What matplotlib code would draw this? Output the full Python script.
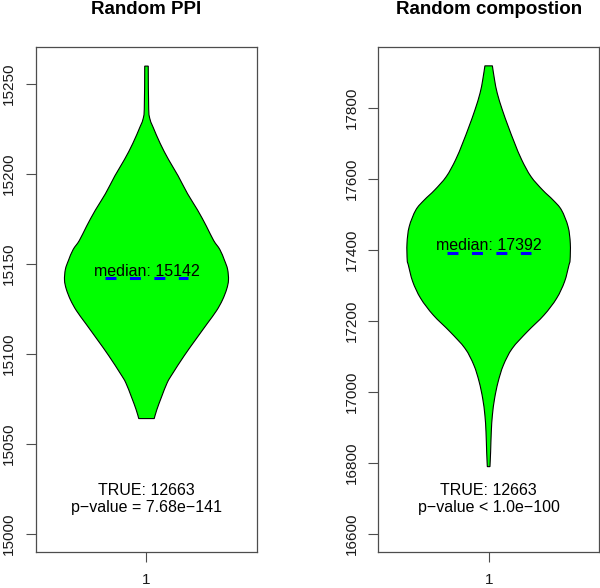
import matplotlib
matplotlib.use("Agg")
import matplotlib.pyplot as plt
from matplotlib.path import Path
from matplotlib.patches import PathPatch
import numpy as np

plt.rcParams['font.family'] = ['Liberation Sans', 'DejaVu Sans']
plt.rcParams['lines.scale_dashes'] = False

# Random PPI violin outline: value -> half width (x units, center at 1)
ppi_values = [15260, 15236, 15230, 15226, 15217, 15208, 15199, 15189, 15180,
              15171, 15163, 15158, 15152, 15147, 15141, 15136, 15130, 15124,
              15117, 15108, 15099, 15089, 15084, 15076, 15069, 15064]
ppi_halfwidth = [0.008, 0.010, 0.017, 0.030, 0.062, 0.100, 0.143, 0.186, 0.231,
                 0.271, 0.304, 0.332, 0.353, 0.367, 0.371, 0.363, 0.344, 0.317,
                 0.276, 0.223, 0.171, 0.118, 0.094, 0.068, 0.047, 0.035]
ppi_median = 15142
ppi_true = 12663
ppi_pvalue = "p\u2212value = 7.68e\u2212141"

# Random composition violin outline
comp_values = [17918, 17878, 17841, 17794, 17747, 17700, 17653, 17606, 17568,
               17540, 17512, 17465, 17418, 17371, 17357, 17310, 17263, 17216,
               17169, 17122, 17075, 17028, 16981, 16934, 16887, 16831, 16789]
comp_halfwidth = [0.017, 0.027, 0.039, 0.062, 0.089, 0.118, 0.150, 0.192, 0.245,
                  0.292, 0.330, 0.360, 0.370, 0.369, 0.364, 0.344, 0.308, 0.251,
                  0.175, 0.107, 0.067, 0.043, 0.027, 0.017, 0.012, 0.009, 0.006]
comp_median = 17392
comp_true = 12663
comp_pvalue = "p\u2212value < 1.0e\u2212100"

ppi_ticks = [15000, 15050, 15100, 15150, 15200, 15250]
comp_ticks = [16600, 16800, 17000, 17200, 17400, 17600, 17800]

panels = [
    dict(title="Random PPI", values=ppi_values, hw=ppi_halfwidth, median=ppi_median,
         true=ppi_true, pvalue=ppi_pvalue, ticks=ppi_ticks, ylim=(14989.8, 15270.6),
         rect=[0.060, 0.0612, 0.3683, 0.8588]),
    dict(title="Random compostion", values=comp_values, hw=comp_halfwidth, median=comp_median,
         true=comp_true, pvalue=comp_pvalue, ticks=comp_ticks, ylim=(16548.5, 17971),
         rect=[0.6305, 0.0612, 0.3678, 0.8588]),
]


def smooth_side(pts):
    # bezier segments (catmull-rom style) through the read outline points
    verts, codes = [], []
    n = len(pts)
    for i in range(n - 1):
        p0 = pts[max(i - 1, 0)]
        p1 = pts[i]
        p2 = pts[i + 1]
        p3 = pts[min(i + 2, n - 1)]
        c1 = p1 + (p2 - p0) / 6.0
        c2 = p2 - (p3 - p1) / 6.0
        verts += [c1, c2, p2]
        codes += [Path.CURVE4] * 3
    return verts, codes


def violin_patch(values, hw, center=1.0):
    y = np.array(values, dtype=float)
    w = np.array(hw, dtype=float)
    left = np.column_stack([center - w, y])
    right = np.column_stack([center + w, y])[::-1]
    verts = [left[0]]
    codes = [Path.MOVETO]
    v, c = smooth_side(left)
    verts += v
    codes += c
    verts.append(right[0])
    codes.append(Path.LINETO)
    v, c = smooth_side(right)
    verts += v
    codes += c
    verts.append(left[0])
    codes.append(Path.CLOSEPOLY)
    return PathPatch(Path(verts, codes), facecolor='#00ff00', edgecolor='black', linewidth=0.8)


fig = plt.figure(figsize=(6, 5.88), dpi=100)
axis_col = '#4d4d4d'

for p in panels:
    ax = fig.add_axes(p['rect'])
    ax.add_patch(violin_patch(p['values'], p['hw']))

    ax.plot([0.81, 1.19], [p['median'], p['median']], color='#0000ff', linewidth=2.2,
            linestyle=(0, (7.9, 9.7)), solid_capstyle='butt', dash_capstyle='butt')
    ax.annotate(f"median: {p['median']}", xy=(1, p['median']), xytext=(0, 1.8),
                textcoords='offset points', ha='center', va='baseline', fontsize=11.5)

    ax.text(0.5, 0.113, f"TRUE: {p['true']}", transform=ax.transAxes,
            ha='center', va='baseline', fontsize=11.5)
    ax.text(0.5, 0.080, p['pvalue'], transform=ax.transAxes,
            ha='center', va='baseline', fontsize=11.5)

    ax.set_xlim(0.5, 1.5)
    ax.set_ylim(*p['ylim'])
    ax.set_xticks([1])
    ax.set_xticklabels(['1'])
    ax.set_yticks(p['ticks'])
    ax.set_yticklabels([str(t) for t in p['ticks']], rotation=90, va='center')
    ax.tick_params(axis='both', length=7.2, width=0.8, color=axis_col, labelsize=11,
                   labelcolor='#1a1a1a')
    ax.tick_params(axis='y', pad=7)
    ax.tick_params(axis='x', pad=8)
    for s in ax.spines.values():
        s.set_color(axis_col)
        s.set_linewidth(0.9)
    ax.set_title(p['title'], fontsize=13.5, fontweight='bold', pad=24)

fig.savefig('out.png', dpi=100, facecolor='white')
